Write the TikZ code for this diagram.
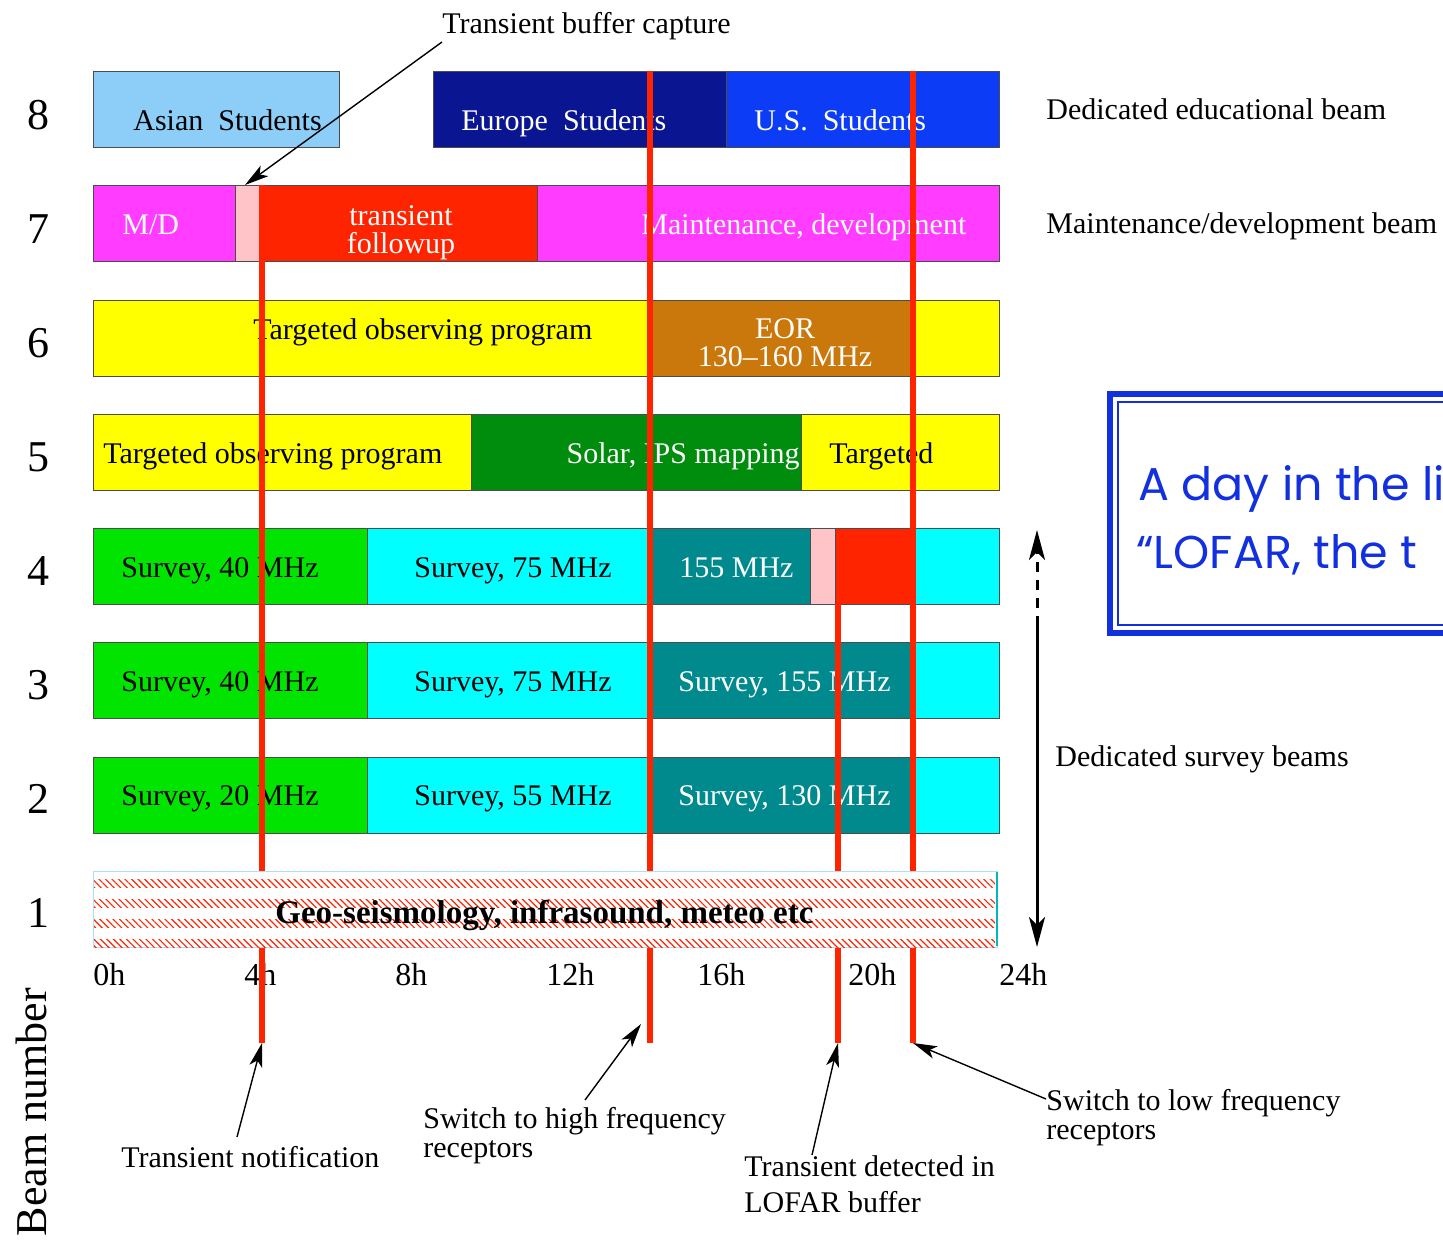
\documentclass[tikz,border=0pt]{standalone}
\usepackage{fontspec}
\setmainfont{Liberation Serif}
\newfontfamily\dayfont{Poppins}
\usetikzlibrary{arrows.meta,patterns.meta}

\definecolor{asianblue}{RGB}{140,206,248}
\definecolor{eurnavy}{RGB}{10,22,145}
\definecolor{usblue}{RGB}{12,60,245}
\definecolor{mdmagenta}{RGB}{255,60,255}
\definecolor{linered}{RGB}{255,36,0}
\definecolor{capturepink}{RGB}{255,196,200}
\definecolor{tgtyellow}{RGB}{255,255,0}
\definecolor{eorbrown}{RGB}{202,120,12}
\definecolor{solgreen}{RGB}{0,140,12}
\definecolor{svgreen}{RGB}{0,228,0}
\definecolor{svcyan}{RGB}{0,255,255}
\definecolor{svteal}{RGB}{0,138,142}
\definecolor{boxblue}{RGB}{18,48,222}

% one beam slot: (x from, x to, row top) {fill}
\def\slot(#1,#2,#3)#4{\draw[slot, fill=#4] (#1, #3) rectangle (#2, #3+76);}

\tikzset{
	slot/.style={draw=black!70, line width=0.5pt},
	lbl/.style={font=\fontsize{15}{14}\selectfont, inner sep=0pt},
	wlbl/.style={lbl, text=white},
	beamnum/.style={font=\fontsize{22}{26}\selectfont, inner sep=0pt},
	hourlbl/.style={font=\fontsize{16}{18}\selectfont, inner sep=0pt, anchor=base west},
	redline/.style={line width=3pt, draw=linered},
	pointer/.style={line width=0.7pt, -{Stealth[length=12pt, width=6.5pt, inset=3pt]}},
	bigpointer/.style={line width=1.5pt, -{Stealth[length=15pt, width=8pt, inset=4pt]}},
	daytxt/.style={font=\dayfont\fontsize{23}{28}\selectfont, text=boxblue, inner sep=0pt, anchor=base west},
}

\begin{document}
\begin{tikzpicture}[x=0.5pt, y=-0.5pt]
		%%%%% START %%%%%
		\useasboundingbox (0, 0) rectangle (1443, 1242);
		\clip (0, 0) rectangle (1443, 1242);
		
		% beam 8
		\slot(93,339,71){asianblue}
		\slot(433,726,71){eurnavy}
		\slot(726,999,71){usblue}
		\node[lbl, anchor=base west] (asian) at (133, 130) {Asian\ \ Students};
		\node[wlbl, anchor=base west] (europe) at (461, 130) {Europe\ \ Students};
		\node[wlbl, anchor=base west] (us) at (754, 130) {U.S.\ \ Students};
		
		% beam 7
		\slot(93,235,185){mdmagenta}
		\slot(235,260,185){capturepink}
		\slot(260,537,185){linered}
		\slot(537,999,185){mdmagenta}
		\node[wlbl, anchor=base west] (md) at (122, 234) {M/D};
		\node[wlbl, anchor=north, align=center] (followup) at (401, 205) {transient\\followup};
		\node[wlbl, anchor=base west] (maint) at (641, 234) {Maintenance, development};
		
		% beam 6
		\slot(93,650,300){tgtyellow}
		\slot(650,912,300){eorbrown}
		\slot(912,999,300){tgtyellow}
		\node[lbl, anchor=base west] (tgt6) at (253, 339) {Targeted observing program};
		\node[wlbl, anchor=north, align=center] (eor) at (785, 318) {EOR\\130--160 MHz};
		
		% beam 5
		\slot(93,471,414){tgtyellow}
		\slot(471,801,414){solgreen}
		\slot(801,999,414){tgtyellow}
		\node[lbl, anchor=base west] (tgt5) at (103, 463) {Targeted observing program};
		\node[wlbl, anchor=base east] (solar) at (800, 463) {Solar, IPS mapping};
		\node[lbl, anchor=base west] (tgt5b) at (829, 463) {Targeted};
		
		% beam 4
		\slot(93,367,528){svgreen}
		\slot(367,650,528){svcyan}
		\slot(650,810,528){svteal}
		\slot(810,835,528){capturepink}
		\slot(835,915,528){linered}
		\slot(915,999,528){svcyan}
		\node[lbl, anchor=base west] (s4a) at (121, 577) {Survey, 40 MHz};
		\node[lbl, anchor=base west] (s4b) at (414, 577) {Survey, 75 MHz};
		\node[wlbl, anchor=base west] (s4c) at (679, 577) {155 MHz};
		
		% beam 3
		\slot(93,367,642){svgreen}
		\slot(367,650,642){svcyan}
		\slot(650,912,642){svteal}
		\slot(912,999,642){svcyan}
		\node[lbl, anchor=base west] (s3a) at (121, 691) {Survey, 40 MHz};
		\node[lbl, anchor=base west] (s3b) at (414, 691) {Survey, 75 MHz};
		\node[wlbl, anchor=base west] (s3c) at (678, 691) {Survey, 155 MHz};
		
		% beam 2
		\slot(93,367,757){svgreen}
		\slot(367,650,757){svcyan}
		\slot(650,912,757){svteal}
		\slot(912,999,757){svcyan}
		\node[lbl, anchor=base west] (s2a) at (121, 805) {Survey, 20 MHz};
		\node[lbl, anchor=base west] (s2b) at (414, 805) {Survey, 55 MHz};
		\node[wlbl, anchor=base west] (s2c) at (678, 805) {Survey, 130 MHz};
		
		% beam numbers and hours
		\foreach \r/\yc in {8/115, 7/229, 6/343, 5/457, 4/571, 3/685, 2/799, 1/913}
			\node[beamnum] (b\r) at (38, \yc) {\r};
		\foreach \h in {0,4,...,24}
			\node[hourlbl] (h\h) at ({93+37.75*\h}, 985) {\h h};
		\node[beamnum, rotate=90] (beamlbl) at (31, 1112) {Beam number};
		
		% switch lines
		\coordinate (l1t) at (262, 185);  \coordinate (l1b) at (262, 1043);
		\coordinate (l2t) at (650, 71);   \coordinate (l2b) at (650, 1043);
		\coordinate (l3t) at (838, 604);  \coordinate (l3b) at (838, 1043);
		\coordinate (l4t) at (913, 71);   \coordinate (l4b) at (913, 1043);
		\draw[redline] (l1t) -- (l1b);
		\draw[redline] (l2t) -- (l2b);
		\draw[redline] (l3t) -- (l3b);
		\draw[redline] (l4t) -- (l4b);
		
		% beam 1
		\draw[draw=asianblue!70, line width=0.5pt, fill=white] (93, 871) rectangle (997, 947);
		\foreach \k in {0,...,3}
			\fill[pattern={Lines[angle=-45, distance=2.3pt, line width=0.6pt]}, pattern color=linered]
				(94, {879+20*\k}) rectangle (995, {887+20*\k});
		\draw[line width=1.2pt, svteal!60!svcyan] (997, 872) -- (997, 946);
		\node[lbl, font=\fontsize{16.5}{16}\selectfont\bfseries, anchor=base west] (geo) at (275, 923) {Geo-seismology, infrasound, meteo etc};
		
		% beam descriptions
		\node[lbl, anchor=base west] (edu) at (1046, 119) {Dedicated educational beam};
		\node[lbl, anchor=base west] (mdbeam) at (1046, 233) {Maintenance/development beam};
		\node[lbl, anchor=base west] (survey) at (1055, 766) {Dedicated survey beams};
		\coordinate (vtop) at (1037, 530);
		\coordinate (vmid) at (1037, 626);
		\coordinate (vbot) at (1037, 947);
		\draw[bigpointer, dash pattern=on 5pt off 4pt] (vmid) -- (vtop);
		\draw[bigpointer] (vmid) -- (vbot);
		
		% title box
		\draw[line width=3pt, boxblue] (1110, 394) rectangle (1470, 633);
		\draw[line width=1pt, boxblue] (1118, 402) rectangle (1470, 625);
		\node[daytxt] (day1) at (1138, 500) {A day in the li};
		\node[daytxt] (day2) at (1136, 568) {“LOFAR, the t};
		
		% annotations
		\node[lbl, anchor=base west] (capture) at (442, 33) {Transient buffer capture};
		\coordinate (capt) at (442, 42);
		\coordinate (caph) at (245, 185);
		\draw[pointer] (capt) -- (caph);
		
		\node[lbl, anchor=base west] (notif) at (121, 1167) {Transient notification};
		\coordinate (notift) at (237, 1137);
		\draw[pointer] (notift) -- (l1b);
		
		\node[lbl, anchor=north west, align=left, font=\fontsize{15}{14.5}\selectfont] (hfsw) at (423, 1107) {Switch to high frequency\\receptors};
		\coordinate (hfswt) at (585, 1100);
		\draw[pointer] (hfswt) -- (641, 1024);
		
		\node[lbl, anchor=north west, align=left, font=\fontsize{15}{18}\selectfont] (detect) at (744, 1155) {Transient detected in\\LOFAR buffer};
		\coordinate (detectt) at (812, 1155);
		\draw[pointer] (detectt) -- (l3b);
		
		\node[lbl, anchor=north west, align=left, font=\fontsize{15}{14.5}\selectfont] (lfsw) at (1046, 1089) {Switch to low frequency\\receptors};
		\coordinate (lfswt) at (1046, 1099);
		\draw[pointer] (lfswt) -- (l4b);
		
		%%%%% END %%%%%
	\end{tikzpicture}
\end{document}
